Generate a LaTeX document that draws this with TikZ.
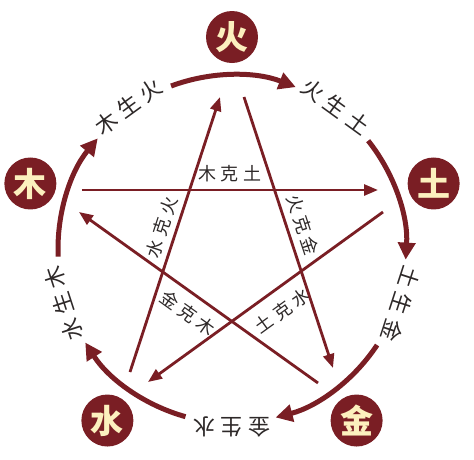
\documentclass[tikz,border=0pt]{standalone}
\usepackage{fontspec}
\newfontfamily\cjk{Noto Sans CJK SC}
\newfontfamily\cjkwide[LetterSpace=26]{Noto Sans CJK SC}
\newfontfamily\cjkmid[LetterSpace=24]{Noto Sans CJK SC}
\usetikzlibrary{arrows.meta}
\definecolor{maroon}{RGB}{122,30,36}
\definecolor{cream}{RGB}{252,240,190}
\definecolor{ink}{RGB}{45,40,40}
\tikzset{
  element/.style={circle, fill=maroon, minimum size=52pt, inner sep=0pt,
    text=cream, font=\cjk\bfseries\fontsize{33}{33}\selectfont},
  sheng/.style={maroon, line width=5pt, -{Triangle[length=17pt,width=17pt]}},
  ke/.style={maroon, line width=2.8pt, -{Triangle[length=14pt,width=11pt]}},
  outer/.style={text=ink, inner sep=0pt, font=\cjkwide\fontsize{22}{22}\selectfont},
  inner/.style={text=ink, inner sep=0pt, font=\cjkmid\fontsize{18}{18}\selectfont}
}
\begin{document}
\begin{tikzpicture}[x=1pt, y=1pt]
  \useasboundingbox (-232,-210) rectangle (242,249);
  % the five elements
  \node[element] (huo)  at (90:212pt)  {火};
  \node[element] (tu)   at (18:212pt)  {土};
  \node[element] (jin)  at (-54:212pt) {金};
  \node[element] (shui) at (234:212pt) {水};
  \node[element] (mu)   at (162:212pt) {木};
  % generating cycle
  \foreach \a/\n in {90/huo, 18/tu, -54/jin, -126/shui, -198/mu} {
    \coordinate (\n-from) at ({\a+20.5}:174pt);
    \draw[sheng] (\n-from) arc[start angle=\a+20.5, end angle=\a-21.5, radius=174pt];
  }
  \node[outer, rotate=36]   (mu-huo)   at (126:176pt)  {木生火};
  \node[outer, rotate=-36]  (huo-tu)   at (54:176pt)   {火生土};
  \node[outer, rotate=-108] (tu-jin)   at (-18:178pt)  {土生金};
  \node[outer, rotate=180]  (jin-shui) at (-90:178pt)  {金生水};
  \node[outer, rotate=108]  (shui-mu)  at (198:177pt)  {水生木};
  % controlling cycle
  \coordinate (mu-a)   at (-150,59);
  \coordinate (tu-b)   at (146,59);
  \coordinate (tu-a)   at (151,37);
  \coordinate (shui-b) at (-84,-133);
  \coordinate (shui-a) at (-102,-123);
  \coordinate (huo-b)  at (-12,152);
  \coordinate (huo-a)  at (12,152);
  \coordinate (jin-b)  at (101,-119);
  \coordinate (jin-a)  at (86,-134);
  \coordinate (mu-b)   at (-153,37);
  \draw[ke] (mu-a) -- (tu-b)
    node[inner, midway, above=7pt] (mu-tu) {木克土};
  \draw[ke] (tu-a) -- (shui-b)
    node[inner, pos=0.48, sloped, below=11pt] (tu-shui) {土克水};
  \draw[ke] (shui-a) -- (huo-b)
    node[inner, pos=0.51, sloped, above=5pt] (shui-huo) {水克火};
  \draw[ke] (huo-a) -- (jin-b)
    node[inner, pos=0.49, sloped, above=6pt] (huo-jin) {火克金};
  \draw[ke] (jin-a) -- (mu-b)
    node[inner, pos=0.5, sloped, below=9pt] (jin-mu) {金克木};
\end{tikzpicture}
\end{document}
